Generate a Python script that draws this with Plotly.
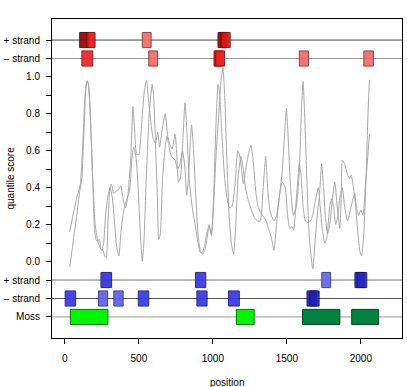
import plotly.graph_objects as go

# ---------------- data ----------------
curve1_x = [33, 60, 85, 105, 120, 135, 148, 158, 172, 188, 200, 210, 220, 232, 245, 258, 270, 280, 292, 305,
            315, 328, 345, 362, 378, 395, 410, 425, 445, 460, 472, 485, 500, 520, 538, 552, 565, 580, 598, 612,
            628, 640, 655, 678, 695, 712, 725, 745, 760, 767, 780, 795, 812, 825, 840, 860, 880, 900, 915, 930,
            945, 960, 975, 990, 1005, 1020, 1035, 1045, 1060, 1080, 1100, 1115, 1130, 1150, 1168, 1180, 1195, 1206,
            1222, 1240, 1257, 1272, 1290, 1305, 1320, 1335, 1346, 1360, 1380, 1398, 1413, 1430, 1450, 1468, 1480,
            1490, 1505, 1520, 1535, 1546, 1560, 1575, 1583, 1595, 1610, 1625, 1646, 1660, 1675, 1690, 1713, 1725,
            1740, 1757, 1770, 1790, 1802, 1815, 1830, 1845, 1858, 1875, 1890, 1910, 1935, 1950, 1957, 1970, 1985,
            2000, 2015, 2030, 2045, 2058]
curve1_y = [0.16, 0.27, 0.36, 0.42, 0.62, 0.88, 0.975, 0.96, 0.80, 0.45, 0.18, 0.12, 0.11, 0.12, 0.07, 0.06, 0.03, 0.02, 0.22, 0.40,
            0.42, 0.37, 0.38, 0.39, 0.41, 0.33, 0.29, 0.35, 0.55, 0.84, 0.70, 0.58, 0.58, 0.76, 0.93, 0.98, 0.88, 0.76, 0.66, 0.64,
            0.70, 0.62, 0.70, 0.80, 0.68, 0.63, 0.61, 0.69, 0.52, 0.43, 0.45, 0.62, 0.86, 0.70, 0.45, 0.30, 0.20, 0.10, 0.05, 0.05,
            0.09, 0.16, 0.19, 0.15, 0.35, 0.72, 0.96, 0.92, 0.70, 0.45, 0.32, 0.29, 0.30, 0.42, 0.60, 0.58, 0.49, 0.42,
            0.50, 0.58, 0.63, 0.55, 0.38, 0.30, 0.27, 0.25, 0.24, 0.22, 0.17, 0.12, 0.06, 0.20, 0.36, 0.43, 0.42,
            0.40, 0.25, 0.18, 0.19, 0.17, 0.30, 0.45, 0.53, 0.48, 0.30, 0.22, 0.21, 0.22, 0.25, 0.32, 0.40, 0.30,
            0.17, 0.10, 0.13, 0.30, 0.34, 0.30, 0.20, 0.25, 0.35, 0.40, 0.30, 0.22, 0.30, 0.35, 0.37, 0.30, 0.25,
            0.28, 0.25, 0.40, 0.55, 0.69]

curve2_x = [33, 55, 80, 100, 115, 130, 143, 152, 162, 175, 190, 205, 220, 235, 250, 262, 275, 290, 305, 320,
            335, 350, 365, 378, 392, 410, 425, 440, 452, 465, 480, 495, 510, 523, 535, 550, 570, 590, 600, 612,
            625, 634, 645, 660, 678, 690, 700, 715, 730, 745, 760, 775, 795, 812, 823, 835, 848, 856, 870, 885,
            900, 915, 930, 945, 960, 975, 990, 1005, 1020, 1040, 1055, 1068, 1080, 1095, 1110, 1125, 1140, 1155,
            1170, 1190, 1205, 1220, 1240, 1260, 1280, 1300, 1320, 1340, 1357, 1370, 1385, 1400, 1415, 1430, 1450,
            1470, 1485, 1497, 1510, 1525, 1545, 1565, 1585, 1600, 1610, 1620, 1635, 1650, 1665, 1675, 1690, 1705,
            1720, 1735, 1748, 1760, 1775, 1790, 1805, 1824, 1840, 1858, 1868, 1875, 1890, 1910, 1925, 1935, 1950,
            1965, 1980, 1995, 2005, 2020, 2035, 2048, 2058]
curve2_y = [-0.03, 0.10, 0.25, 0.38, 0.45, 0.72, 0.95, 0.98, 0.95, 0.72, 0.42, 0.20, 0.12, 0.08, 0.06, 0.10, 0.25, 0.35, 0.40, 0.35,
            0.22, 0.08, 0.03, 0.15, 0.25, 0.32, 0.35, 0.40, 0.55, 0.62, 0.57, 0.40, 0.15, 0.00, 0.12, 0.45, 0.80, 0.96, 0.90, 0.65,
            0.35, 0.12, 0.15, 0.45, 0.62, 0.68, 0.64, 0.58, 0.56, 0.55, 0.50, 0.52, 0.60, 0.50, 0.36, 0.45, 0.65, 0.74, 0.60, 0.35,
            0.15, 0.06, 0.04, 0.06, 0.12, 0.20, 0.14, 0.30, 0.55, 0.80, 0.98, 1.05, 0.90, 0.55, 0.25, 0.10, 0.04, 0.20,
            0.45, 0.57, 0.50, 0.40, 0.33, 0.28, 0.24, 0.22, 0.22, 0.40, 0.57, 0.40, 0.28, 0.24, 0.22, 0.25, 0.35,
            0.50, 0.70, 0.83, 0.65, 0.40, 0.25, 0.30, 0.50, 0.85, 0.975, 0.80, 0.45, 0.15, 0.02, -0.04, 0.10, 0.25,
            0.35, 0.53, 0.40, 0.25, 0.15, 0.20, 0.32, 0.43, 0.30, 0.18, 0.38, 0.55, 0.53, 0.47, 0.45, 0.47, 0.40,
            0.30, 0.15, 0.05, 0.03, 0.15, 0.45, 0.80, 0.985]

# red motif hits (top tracks)
top_plus_start = [100, 149, 523, 1035, 1057]
top_plus_end = [160, 204, 583, 1095, 1117]
top_plus_score = [1.0, 0.75, 0.2, 1.0, 0.75]
top_minus_start = [115, 567, 1008, 1019, 1584, 2020]
top_minus_end = [189, 627, 1068, 1079, 1646, 2085]
top_minus_score = [0.65, 0.2, 0.75, 0.65, 0.2, 0.2]

# blue motif hits (bottom tracks)
bot_plus_start = [244, 883, 1736, 1960, 1975]
bot_plus_end = [316, 952, 1796, 2025, 2040]
bot_plus_score = [0.75, 0.7, 0.3, 0.85, 0.85]
bot_minus_start = [2, 227, 331, 496, 892, 1106, 1636, 1655]
bot_minus_end = [73, 289, 394, 567, 961, 1179, 1700, 1718]
bot_minus_score = [0.7, 0.35, 0.35, 0.7, 0.7, 0.7, 0.9, 0.9]

# Moss segments
moss_start = [37, 1159, 1606, 1938]
moss_end = [291, 1279, 1858, 2120]
moss_class = [1, 1, 2, 2]

track_labels = ["Moss", "– strand", "+ strand", "– strand", "+ strand"]
score_ticks = [0.0, 0.2, 0.4, 0.6, 0.8, 1.0]
x_ticks = [0, 500, 1000, 1500, 2000]

# ---------------- styling helpers ----------------
def lerp(c1, c2, t):
    return tuple(int(round(a + (b - a) * t)) for a, b in zip(c1, c2))

def shade(kind, s):
    if kind == "red":
        light, mid, dark = (247, 135, 135), (238, 25, 25), (140, 5, 5)
    else:
        light, mid, dark = (135, 135, 245), (55, 55, 228), (20, 20, 160)
    if s <= 0.7:
        c = lerp(light, mid, s / 0.7)
    else:
        c = lerp(mid, dark, (s - 0.7) / 0.3)
    return c

def rgb(c):
    return "rgb(%d,%d,%d)" % c

TRACK_Y = {"top_plus": 1.2, "top_minus": 1.1, "bot_plus": -0.1, "bot_minus": -0.2, "moss": -0.3}
HALF = 0.041

fig = go.Figure()
for xs, ys in [(curve1_x, curve1_y), (curve2_x, curve2_y)]:
    fig.add_trace(go.Scatter(x=xs, y=ys, mode="lines",
                             line=dict(color="#a8a8a8", width=1, shape="spline", smoothing=0.5),
                             hoverinfo="skip"))

shapes = []
line_cols = {"top_plus": "#4a4a4a", "top_minus": "#9a9a9a", "bot_plus": "#777777",
             "bot_minus": "#555555", "moss": "#999999"}
for key, yv in TRACK_Y.items():
    shapes.append(dict(type="line", xref="paper", yref="y", x0=0, x1=1, y0=yv, y1=yv,
                       line=dict(color=line_cols[key], width=1), layer="below"))

def add_boxes(starts, ends, scores, kind, yv):
    for s0, s1, sc in zip(starts, ends, scores):
        c = shade(kind, sc)
        border = tuple(int(v * 0.55) for v in c)
        shapes.append(dict(type="rect", xref="x", yref="y", x0=s0, x1=s1, y0=yv - HALF, y1=yv + HALF,
                           fillcolor=rgb(c), line=dict(color=rgb(border), width=1), opacity=0.92,
                           layer="above"))

add_boxes(top_plus_start, top_plus_end, top_plus_score, "red", TRACK_Y["top_plus"])
add_boxes(top_minus_start, top_minus_end, top_minus_score, "red", TRACK_Y["top_minus"])
add_boxes(bot_plus_start, bot_plus_end, bot_plus_score, "blue", TRACK_Y["bot_plus"])
add_boxes(bot_minus_start, bot_minus_end, bot_minus_score, "blue", TRACK_Y["bot_minus"])

moss_cols = {1: ("rgb(0,245,0)", "rgb(0,120,0)"), 2: ("rgb(0,130,65)", "rgb(0,70,35)")}
for s0, s1, cl in zip(moss_start, moss_end, moss_class):
    f, b = moss_cols[cl]
    shapes.append(dict(type="rect", xref="x", yref="y", x0=s0, x1=s1,
                       y0=TRACK_Y["moss"] - HALF, y1=TRACK_Y["moss"] + HALF,
                       fillcolor=f, line=dict(color=b, width=1), layer="above"))

ytickvals = [TRACK_Y["moss"], TRACK_Y["bot_minus"], TRACK_Y["bot_plus"]]
yticktext = track_labels[:3]
minor = [0.1, 0.3, 0.5, 0.7, 0.9]
allv = sorted(score_ticks + minor)
for v in allv:
    ytickvals.append(v)
    yticktext.append("%.1f" % v if v in score_ticks else "")
ytickvals += [TRACK_Y["top_minus"], TRACK_Y["top_plus"]]
yticktext += track_labels[3:]

font = dict(family="Liberation Sans, Arial, sans-serif", size=10, color="black")

fig.update_layout(
    width=407, height=387,
    margin=dict(l=49, r=4, t=19, b=49),
    plot_bgcolor="white", paper_bgcolor="white",
    showlegend=False,
    shapes=shapes,
    font=font,
    xaxis=dict(range=[-86.8, 2278], tickvals=x_ticks, ticktext=[str(v) for v in x_ticks],
               ticks="outside", ticklen=5, tickcolor="black", tickwidth=1,
               showline=True, mirror=True, linecolor="black", linewidth=1,
               showgrid=False, zeroline=False, tickfont=font, ticklabelstandoff=6),
    yaxis=dict(range=[-0.414, 1.314], tickvals=ytickvals, ticktext=yticktext,
               ticks="outside", ticklen=5, tickcolor="black", tickwidth=1,
               showline=True, mirror=True, linecolor="black", linewidth=1,
               showgrid=False, zeroline=False, tickfont=font, ticklabelstandoff=4),
    annotations=[
        dict(text="position", xref="paper", yref="paper", x=0.5, y=-0.138,
             xanchor="center", yanchor="middle", showarrow=False, font=font),
        dict(text="quantile score", xref="paper", yref="paper", x=-0.12, y=0.5,
             xanchor="center", yanchor="middle", showarrow=False, font=font, textangle=-90),
    ],
)

fig.write_html("out.html")
